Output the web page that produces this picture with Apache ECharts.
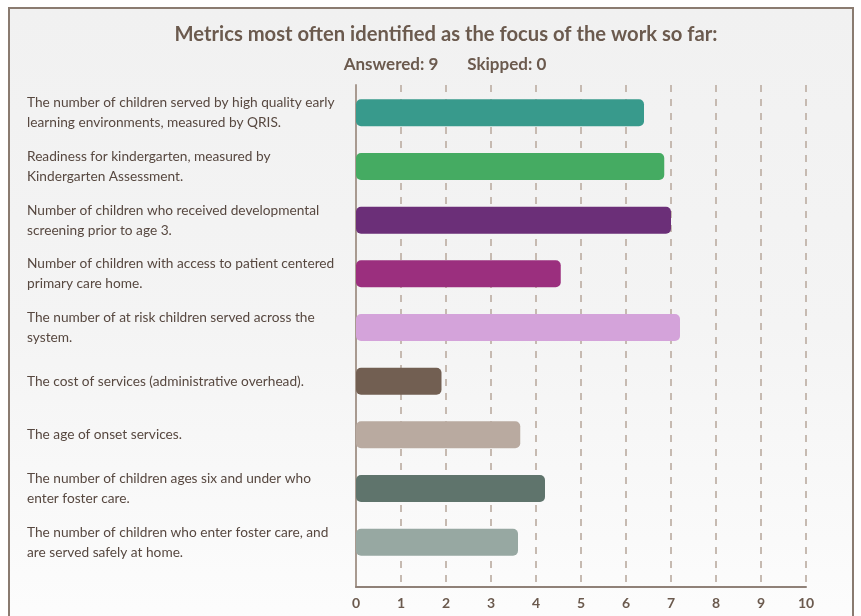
<!DOCTYPE html>
<html>
<head>
<meta charset="utf-8">
<script src="https://cdn.jsdelivr.net/npm/echarts@6/dist/echarts.min.js"></script>
<style>
  html, body { margin: 0; padding: 0; width: 861px; height: 616px; overflow: hidden; background: #ffffff; }
  #frame { position: absolute; left: 8px; top: 7px; width: 846px; height: 640px;
           border: 2px solid #8a7b70; box-sizing: border-box;
           background: linear-gradient(#f1f1f1 0%, #f4f4f4 50%, #fdfdfd 100%); }
  #chart { position: absolute; left: 0; top: 0; width: 861px; height: 616px; }
</style>
</head>
<body>
<div id="frame"></div>
<div id="chart"></div>
<script>
const titleText = 'Metrics most often identified as the focus of the work so far:';
const subtitleText = 'Answered: 9       Skipped: 0';
const categories = [
  'The number of children served by high quality early\nlearning environments, measured by QRIS.',
  'Readiness for kindergarten, measured by\nKindergarten Assessment.',
  'Number of children who received developmental\nscreening prior to age 3.',
  'Number of children with access to patient centered\nprimary care home.',
  'The number of at risk children served across the\nsystem.',
  'The cost of services (administrative overhead).',
  'The age of onset services.',
  'The number of children ages six and under who\nenter foster care.',
  'The number of children who enter foster care, and\nare served safely at home.'
];
const values = [6.4, 6.85, 7.0, 4.55, 7.2, 1.9, 3.65, 4.2, 3.6];
const barColors = ['#389a8c', '#45ab62', '#6b2f78', '#9b2f7e', '#d4a3da', '#725f52', '#b9aaa0', '#5f746c', '#97a8a2'];
const xTicks = [0, 1, 2, 3, 4, 5, 6, 7, 8, 9, 10];

const chart = echarts.init(document.getElementById('chart'), null, { renderer: 'canvas' });
const font = 'Lato, "Open Sans", sans-serif';
const brown = '#6b5a4e';

chart.setOption({
  backgroundColor: 'transparent',
  animation: false,
  title: [
    { text: titleText, left: 441, top: 19, textAlign: 'center',
      textStyle: { fontFamily: font, fontWeight: 'bold', fontSize: 20.2, color: brown } },
    { text: subtitleText, left: 440, top: 51, textAlign: 'center',
      textStyle: { fontFamily: font, fontWeight: 'bold', fontSize: 17, color: brown } }
  ],
  grid: [
    { left: 356, right: 55, top: 86, bottom: 47 },
    { left: 356, right: 55, top: 85, bottom: 29 }
  ],
  xAxis: [
    { gridIndex: 0, type: 'value', min: 0, max: 10, show: false },
    { gridIndex: 1, type: 'value', min: xTicks[0], max: xTicks[xTicks.length - 1], interval: 1,
      axisLine: { show: true, lineStyle: { color: '#8f8178', width: 2 } },
      axisTick: { show: false },
      axisLabel: { margin: 9, fontFamily: font, fontWeight: 'bold', fontSize: 14, color: brown },
      splitLine: { show: true, lineStyle: { type: [7, 7], color: '#c6bab1', width: 2 } } }
  ],
  yAxis: [
    { gridIndex: 0, type: 'category', inverse: true, data: categories,
      axisLine: { show: false }, axisTick: { show: false },
      axisLabel: { align: 'left', margin: 329, fontFamily: font, fontSize: 13.7, lineHeight: 20, color: '#574840' } },
    { gridIndex: 1, type: 'value', min: 0, max: 1,
      axisLine: { show: true, lineStyle: { color: '#a89a90', width: 2 } },
      axisTick: { show: false }, axisLabel: { show: false }, splitLine: { show: false } }
  ],
  series: [{
    type: 'bar', xAxisIndex: 0, yAxisIndex: 0, barWidth: 27,
    data: values.map((v, i) => ({ value: v, itemStyle: { color: barColors[i], borderRadius: 5 } }))
  }]
});
</script>
</body>
</html>
